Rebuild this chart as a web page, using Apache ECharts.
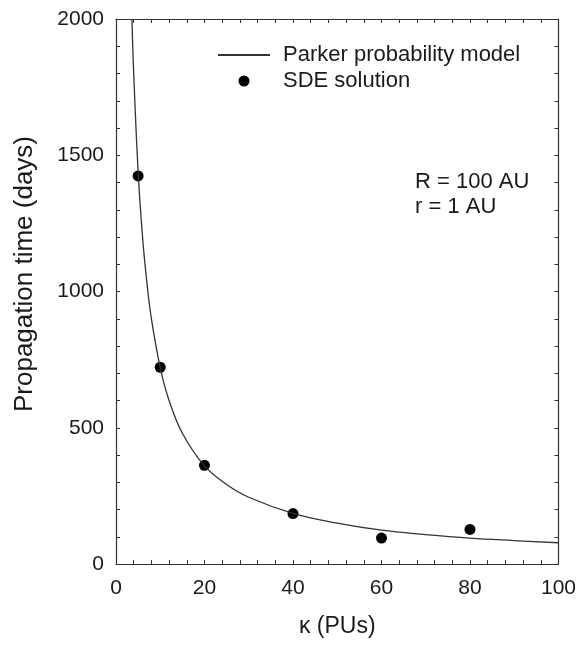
<!DOCTYPE html>
<html><head><meta charset="utf-8">
<script src="https://cdn.jsdelivr.net/npm/echarts@6/dist/echarts.min.js"></script>
<style>html,body{margin:0;padding:0;background:#fff}#c{width:579px;height:645px}</style>
</head><body><div id="c"></div>
<script>
// Parker probability model curve
const curveKappa = [3.6, 4, 5, 6, 7, 8, 10, 12, 15, 20, 25, 30, 40, 50, 60, 70, 80, 90, 100];
const curveTime  = [2000, 1800, 1440, 1200, 1030, 900, 720, 600, 480, 360, 292, 245, 186, 150, 124, 108, 95, 86, 78];
// SDE solution points
const sdeKappa = [5, 10, 20, 40, 60, 80];
const sdeTime  = [1424, 722, 362, 185, 95, 127];
const xTicks = [0, 20, 40, 60, 80, 100];
const yTicks = [0, 500, 1000, 1500, 2000];

const FONT = 'Liberation Sans, Arial, sans-serif';
const INK = '#1a1a1a';
const chart = echarts.init(document.getElementById('c'));
function axisBase(extra) {
  return Object.assign({
    type: 'value',
    axisLine: {show: true, onZero: false, lineStyle: {color: '#333', width: 1.2}},
    axisTick: {show: true, inside: true, length: 4, lineStyle: {color: '#333', width: 1}},
    minorTick: {show: true, splitNumber: 5, length: 4, lineStyle: {color: '#333', width: 1}},
    splitLine: {show: false}, minorSplitLine: {show: false}
  }, extra);
}
chart.setOption({
  animation: false,
  grid: {left: 116, right: 20, top: 19, bottom: 81, containLabel: false},
  legend: {
    orient: 'vertical', left: 212, top: 39, itemWidth: 52, itemHeight: 11, itemGap: 4,
    textStyle: {fontFamily: FONT, fontSize: 22, color: INK, padding: [0, 0, 0, 8]},
    data: [
      {name: 'Parker probability model', itemStyle: {opacity: 0}},
      {name: 'SDE solution'}
    ]
  },
  xAxis: [
    axisBase({
      min: xTicks[0], max: xTicks[xTicks.length - 1], interval: 20, position: 'bottom',
      name: 'κ (PUs)', nameLocation: 'middle', nameGap: 51,
      nameTextStyle: {fontFamily: FONT, fontSize: 23, color: INK},
      axisLabel: {fontFamily: FONT, fontSize: 21, color: INK, margin: 14, formatter: v => String(v)}
    }),
    axisBase({min: 0, max: 100, interval: 20, position: 'top', axisLabel: {show: false}})
  ],
  yAxis: [
    axisBase({
      min: yTicks[0], max: yTicks[yTicks.length - 1], interval: 500, position: 'left',
      axisLabel: {fontFamily: FONT, fontSize: 21, color: INK, margin: 12, formatter: v => String(v)}
    }),
    axisBase({min: 0, max: 2000, interval: 500, position: 'right', axisLabel: {show: false}})
  ],
  graphic: [
    {type: 'text', x: 25, y: 274, rotation: Math.PI / 2,
     style: {text: 'Propagation time (days)', fontFamily: FONT, fontSize: 26, fill: INK, align: 'center', verticalAlign: 'middle'}},
    {type: 'text', left: 415, top: 171, style: {text: 'R = 100 AU', fontFamily: FONT, fontSize: 22, fill: INK}},
    {type: 'text', left: 415, top: 196, style: {text: 'r = 1 AU', fontFamily: FONT, fontSize: 22, fill: INK}}
  ],
  series: [
    {name: 'Parker probability model', type: 'line', smooth: 0.4, symbol: 'none',
     lineStyle: {color: '#333', width: 1.3}, itemStyle: {color: '#333'},
     data: curveKappa.map((k, i) => [k, curveTime[i]])},
    {name: 'SDE solution', type: 'scatter', symbol: 'circle', symbolSize: 11,
     itemStyle: {color: '#000', opacity: 1},
     data: sdeKappa.map((k, i) => [k, sdeTime[i]])}
  ]
});
</script></body></html>
